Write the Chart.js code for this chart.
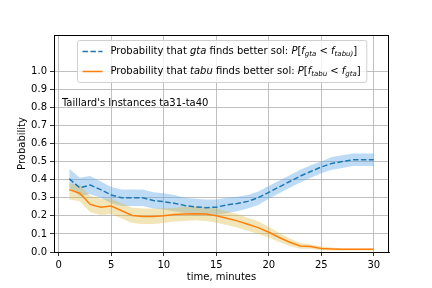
<!DOCTYPE html>
<html>
<head>
<meta charset="utf-8">
<script src="https://cdn.jsdelivr.net/npm/chart.js@4.4.1/dist/chart.umd.min.js"></script>
<style>
  body { margin: 0; background: #fff; }
  canvas { display: block; }
</style>
</head>
<body>
<canvas id="probChart" width="432" height="288"></canvas>
<script>
// time in minutes
const minutes = [1, 2, 3, 4, 5, 6, 7, 8, 9, 10, 11, 12, 13, 14, 15, 16, 17, 18, 19, 20, 21, 22, 23, 24, 25, 26, 27, 28, 29, 30];

// P[f_gta < f_tabu] and its band
const gtaProb = [0.405, 0.355, 0.37, 0.345, 0.315, 0.30, 0.30, 0.30, 0.285, 0.278, 0.27, 0.257, 0.25, 0.245, 0.248, 0.26, 0.268, 0.28, 0.30, 0.33, 0.36, 0.39, 0.42, 0.445, 0.47, 0.49, 0.50, 0.51, 0.51, 0.51];
const gtaHigh = [0.46, 0.41, 0.42, 0.39, 0.36, 0.345, 0.345, 0.345, 0.33, 0.325, 0.315, 0.30, 0.295, 0.29, 0.29, 0.30, 0.305, 0.315, 0.335, 0.365, 0.395, 0.425, 0.455, 0.48, 0.50, 0.525, 0.535, 0.545, 0.545, 0.545];
const gtaLow = [0.355, 0.31, 0.32, 0.30, 0.27, 0.255, 0.255, 0.255, 0.24, 0.235, 0.225, 0.215, 0.21, 0.205, 0.205, 0.215, 0.225, 0.24, 0.26, 0.295, 0.325, 0.355, 0.385, 0.41, 0.435, 0.455, 0.465, 0.475, 0.475, 0.475];

// P[f_tabu < f_gta] and its band
const tabuProb = [0.345, 0.325, 0.263, 0.248, 0.254, 0.228, 0.202, 0.196, 0.196, 0.20, 0.207, 0.21, 0.212, 0.21, 0.20, 0.187, 0.172, 0.153, 0.135, 0.109, 0.08, 0.054, 0.033, 0.03, 0.02, 0.017, 0.015, 0.015, 0.015, 0.015];
const tabuHigh = [0.38, 0.37, 0.31, 0.295, 0.295, 0.27, 0.245, 0.24, 0.24, 0.24, 0.245, 0.25, 0.25, 0.248, 0.24, 0.225, 0.21, 0.19, 0.17, 0.14, 0.105, 0.075, 0.05, 0.042, 0.03, 0.025, 0.02, 0.02, 0.02, 0.02];
const tabuLow = [0.29, 0.28, 0.22, 0.205, 0.21, 0.185, 0.16, 0.155, 0.155, 0.16, 0.168, 0.172, 0.175, 0.172, 0.162, 0.15, 0.135, 0.118, 0.10, 0.08, 0.055, 0.033, 0.018, 0.018, 0.01, 0.008, 0.008, 0.008, 0.008, 0.008];

const xTicks = [0, 5, 10, 15, 20, 25, 30];
const yTicks = [0, 0.1, 0.2, 0.3, 0.4, 0.5, 0.6, 0.7, 0.8, 0.9, 1.0];

const noteText = "Taillard's Instances ta31-ta40";
const noteAt = { x: 0.3, y: 0.82 };

// legend rows: [text, italic, subscript]
const legendRows = [
    { color: '#1f77b4', dash: [5.5, 2.4], parts: [
        ['Probability that ', 0, 0], ['gta', 1, 0], [' finds better sol: ', 0, 0],
        ['P', 1, 0], ['[', 0, 0], ['f', 1, 0], ['gta', 1, 1], [' < ', 0, 0], ['f', 1, 0], ['tabu)', 1, 1], [']', 0, 0]] },
    { color: '#ff7f0e', dash: [], parts: [
        ['Probability that ', 0, 0], ['tabu', 1, 0], [' finds better sol: ', 0, 0],
        ['P', 1, 0], ['[', 0, 0], ['f', 1, 0], ['tabu', 1, 1], [' < ', 0, 0], ['f', 1, 0], ['gta', 1, 1], [']', 0, 0]] }
];

const FONT = 'DejaVu Sans';

function pts(ys) {
    return minutes.map((m, i) => ({ x: m, y: ys[i] }));
}

function partFont(p) {
    const size = p[2] ? 7 : 10;
    return (p[1] ? 'italic ' : '') + size + 'px "' + FONT + '"';
}

function richWidth(ctx, parts) {
    let w = 0;
    parts.forEach(p => { ctx.font = partFont(p); w += ctx.measureText(p[0]).width; });
    return w;
}

function drawRich(ctx, parts, x, y) {
    ctx.textBaseline = 'middle';
    ctx.textAlign = 'left';
    ctx.fillStyle = '#000';
    parts.forEach(p => {
        ctx.font = partFont(p);
        ctx.fillText(p[0], x, p[2] ? y + 3 : y);
        x += ctx.measureText(p[0]).width;
    });
}

const extras = {
    id: 'extras',
    afterDraw(chart) {
        const ctx = chart.ctx;
        const a = chart.chartArea;
        ctx.save();

        // frame
        ctx.strokeStyle = '#000';
        ctx.lineWidth = 1;
        ctx.strokeRect(a.left + 0.5, a.top + 0.5, a.right - a.left - 1, a.bottom - a.top);

        // note
        ctx.font = '10px "' + FONT + '"';
        ctx.fillStyle = '#000';
        ctx.textBaseline = 'middle';
        ctx.textAlign = 'left';
        ctx.fillText(noteText, chart.scales.x.getPixelForValue(noteAt.x), chart.scales.y.getPixelForValue(noteAt.y));

        // legend
        const textW = Math.max(...legendRows.map(r => richWidth(ctx, r.parts)));
        const boxW = 5 + 20 + 8 + textW + 6;
        const boxH = 42;
        const bx = Math.round((a.left + a.right) / 2 - boxW / 2) + 0.5;
        const by = a.top + 5.5;
        ctx.fillStyle = 'rgba(255,255,255,0.8)';
        ctx.strokeStyle = '#d0d0d0';
        ctx.lineWidth = 1;
        ctx.beginPath();
        ctx.roundRect(bx, by, boxW, boxH, 2);
        ctx.fill();
        ctx.stroke();
        legendRows.forEach((r, i) => {
            const cy = by + 11 + i * 20;
            ctx.strokeStyle = r.color;
            ctx.lineWidth = 1.5;
            ctx.setLineDash(r.dash);
            ctx.beginPath();
            ctx.moveTo(bx + 5, cy);
            ctx.lineTo(bx + 25, cy);
            ctx.stroke();
            ctx.setLineDash([]);
            drawRich(ctx, r.parts, bx + 33, cy);
        });
        ctx.restore();
    }
};

const ctx = document.getElementById('probChart').getContext('2d');
new Chart(ctx, {
    type: 'line',
    data: {
        datasets: [
            { data: pts(gtaLow), borderWidth: 0, pointRadius: 0, fill: false, order: 3 },
            { data: pts(gtaHigh), borderWidth: 0, pointRadius: 0, fill: '-1',
              backgroundColor: 'rgba(100,170,230,0.42)', order: 3 },
            { data: pts(tabuLow), borderWidth: 0, pointRadius: 0, fill: false, order: 2 },
            { data: pts(tabuHigh), borderWidth: 0, pointRadius: 0, fill: '-1',
              backgroundColor: 'rgba(218,180,50,0.35)', order: 2 },
            { data: pts(gtaProb), borderColor: '#1f77b4', borderWidth: 1.5, borderDash: [5.5, 2.4],
              pointRadius: 0, fill: false, order: 1 },
            { data: pts(tabuProb), borderColor: '#ff7f0e', borderWidth: 1.5,
              pointRadius: 0, fill: false, order: 0 }
        ]
    },
    options: {
        responsive: false,
        animation: false,
        events: [],
        layout: { padding: { left: 0, top: 35, right: 43, bottom: 0 } },
        plugins: { legend: { display: false }, tooltip: { enabled: false } },
        scales: {
            x: {
                type: 'linear',
                min: -0.45,
                max: 31.45,
                afterBuildTicks: s => { s.ticks = xTicks.map(v => ({ value: v })); },
                afterFit: s => { s.height = 36; },
                ticks: { color: '#000', font: { family: FONT, size: 10 }, padding: 3, maxRotation: 0 },
                grid: { color: '#b0b0b0', lineWidth: 0.8, tickColor: '#000', tickLength: 4 },
                border: { color: '#000', width: 1 },
                title: { display: true, text: 'time, minutes', color: '#000',
                         font: { family: FONT, size: 10 }, padding: { top: 0, bottom: 5 } }
            },
            y: {
                min: 0,
                max: 1.2,
                afterBuildTicks: s => { s.ticks = yTicks.map(v => ({ value: v })); },
                afterFit: s => { s.width = 54; },
                ticks: { color: '#000', font: { family: FONT, size: 10 }, padding: 3,
                         callback: v => v.toFixed(1) },
                grid: { color: '#b0b0b0', lineWidth: 0.8, tickColor: '#000', tickLength: 4 },
                border: { color: '#000', width: 1 },
                title: { display: true, text: 'Probability', color: '#000',
                         font: { family: FONT, size: 10 }, padding: { top: 16, bottom: 0 } }
            }
        }
    },
    plugins: [extras]
});
</script>
</body>
</html>
